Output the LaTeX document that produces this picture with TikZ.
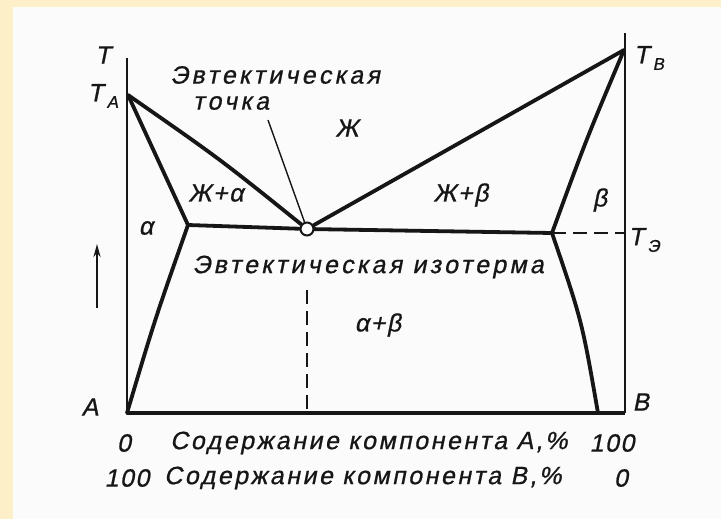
\documentclass[tikz,border=0pt]{standalone}
\usepackage{fontspec}
\newfontfamily\gost{Liberation Sans}[FakeSlant=0.2, FakeBold=0.8, LetterSpace=6]
\newfontfamily\gostwide{Liberation Sans}[FakeSlant=0.2, FakeBold=0.8, LetterSpace=13]
\newfontfamily\gostrow{Liberation Sans}[FakeSlant=0.2, FakeBold=0.8, LetterSpace=10]
\usetikzlibrary{arrows.meta}
\definecolor{slideyellow}{RGB}{253,239,200}
\definecolor{panelwhite}{RGB}{251,251,251}
\definecolor{inkblack}{RGB}{22,22,22}
\newcommand\lowidx[1]{\kern3.5pt\raisebox{-0.5ex}{\fontsize{17}{17}\selectfont#1}}

\begin{document}
\begin{tikzpicture}[
		x=1pt, y=-1pt,
		phase/.style={draw=inkblack, line width=3.8pt, line join=round, line cap=round},
		axis/.style={draw=inkblack, line width=2.8pt},
		dashline/.style={draw=inkblack, line width=2.2pt, dash pattern=on 14pt off 7pt},
		lbl/.style={inner sep=0pt, text=inkblack, font=\gost\fontsize{25}{28}\selectfont},
		longlbl/.style={lbl, font=\gostwide\fontsize{25}{28}\selectfont},
		rowlbl/.style={lbl, anchor=west, font=\gostrow\fontsize{25}{28}\selectfont},
		eutdot/.style={circle, draw=inkblack, fill=white, line width=2pt, minimum size=13pt, inner sep=0pt}
	]
	\useasboundingbox (0,0) rectangle (721,519);
	\fill[slideyellow] (0,0) rectangle (721,519);
	\fill[panelwhite] (13,7) rectangle (721,519);

	\coordinate (Atop) at (127,58);
	\coordinate (Btop) at (625,33);
	\coordinate (A0) at (127,413);
	\coordinate (B0) at (625,413);
	\coordinate (TA) at (128,95);
	\coordinate (TB) at (624,50);
	\coordinate (ka) at (188,225);
	\coordinate (kb) at (552,233);
	\coordinate (sa) at (598,413);
	\coordinate (kbr) at (625,233);
	\coordinate (dtop) at (307,290);
	\coordinate (dbot) at (307,413);
	\coordinate (lead) at (268,120);
	\coordinate (arrlo) at (97,308);
	\coordinate (arrhi) at (97,244);
	\node[eutdot] (eut) at (307,229) {};

	\draw[axis] (Atop) -- (A0);
	\draw[axis] (Btop) -- (B0);
	\draw[axis, line width=3.2pt] (A0) -- (B0);

	\draw[phase] (TA) .. controls (220,159) .. (eut);
	\draw[phase] (TA) -- (ka);
	\draw[phase] (ka) .. controls (155,319) .. (A0);
	\draw[phase] (eut) -- (TB);
	\draw[phase] (TB) .. controls (586,140) .. (kb);
	\draw[phase] (kb) .. controls (582,321) .. (sa);
	\draw[phase] (ka) -- (eut) -- (kb);
	\draw[dashline] (kb) -- (kbr);
	\draw[dashline] (dtop) -- (dbot);
	\draw[inkblack, line width=1.4pt] (eut) -- (lead);
	\draw[-{Stealth[length=13pt, width=7pt]}, inkblack, line width=2.6pt] (arrlo) -- (arrhi);

	\node[lbl] (t) at (103,55) {T};
	\node[lbl] (ta) at (103,96) {T\lowidx{A}};
	\node[lbl] (tb) at (649,58) {T\lowidx{B}};
	\node[lbl] (te) at (644,240) {T\lowidx{Э}};
	\node[longlbl] (eutp1) at (275,75) {Эвтектическая};
	\node[longlbl] (eutp2) at (231,103) {точка};
	\node[lbl] (liq) at (347,128) {Ж};
	\node[lbl] (liqa) at (216,193) {Ж+α};
	\node[lbl] (liqb) at (461,195) {Ж+β};
	\node[lbl] (beta) at (600,200) {β};
	\node[lbl] (alpha) at (146,228) {α};
	\node[longlbl] (iso) at (368,267) {Эвтектическая изотерма};
	\node[lbl] (ab) at (378,325) {α+β};
	\node[lbl] (ca) at (90,407) {A};
	\node[lbl] (cb) at (641,402) {B};
	\node[lbl] (r1l) at (124,443) {0};
	\node[rowlbl] (r1) at (170,443) {Содержание компонента А,\%};
	\node[lbl] (r1r) at (612,443) {100};
	\node[lbl] (r2l) at (127,478) {100};
	\node[rowlbl] (r2) at (164,478) {Содержание компонента В,\%};
	\node[lbl] (r2r) at (621,478) {0};
\end{tikzpicture}
\end{document}
